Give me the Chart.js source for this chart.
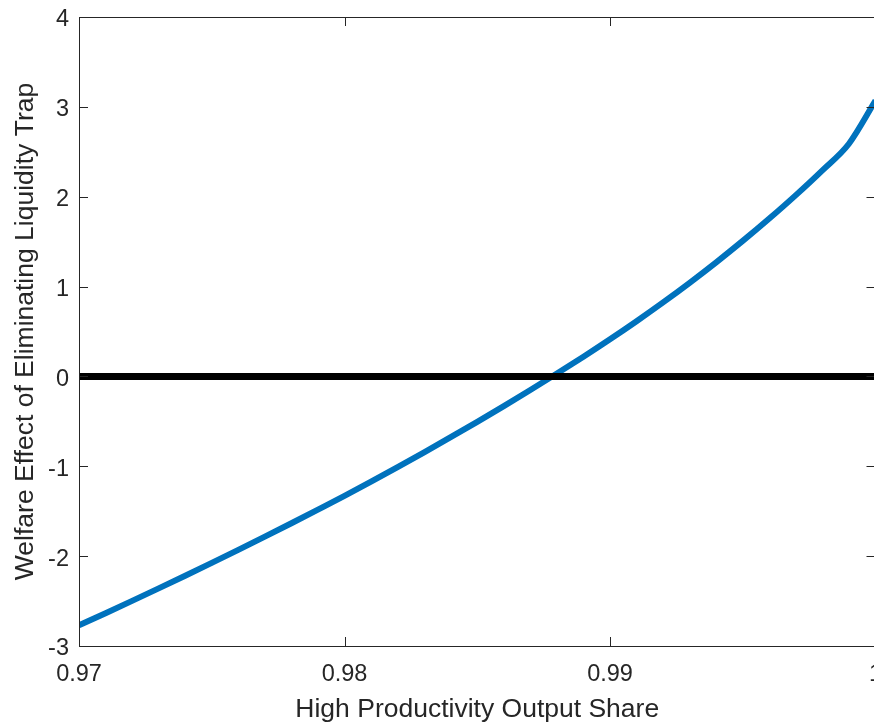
<!DOCTYPE html>
<html>
<head>
<meta charset="utf-8">
<script src="https://cdn.jsdelivr.net/npm/chart.js@4.4.1/dist/chart.umd.min.js"></script>
<style>
  html, body { margin: 0; padding: 0; background: #fff; overflow: hidden; width: 874px; height: 724px; }
  #wrap { width: 890px; height: 724px; position: relative; }
  canvas { display: block; }
</style>
</head>
<body>
<div id="wrap"><canvas id="c" width="890" height="724"></canvas></div>
<script>
// ---- data ----
const shareX = [0.970, 0.971, 0.972, 0.973, 0.974, 0.975, 0.976, 0.977, 0.978, 0.979,
                0.980, 0.981, 0.982, 0.983, 0.984, 0.985, 0.986, 0.987, 0.988, 0.989,
                0.990, 0.991, 0.992, 0.993, 0.994, 0.995, 0.996, 0.997, 0.998, 0.999, 1.000];
const welfare = [-2.770, -2.635, -2.498, -2.359, -2.218, -2.075, -1.930, -1.783, -1.634, -1.483,
                 -1.330, -1.171, -1.009, -0.844, -0.676, -0.505, -0.330, -0.151, 0.032, 0.220,
                  0.414, 0.615, 0.824, 1.042, 1.270, 1.508, 1.757, 2.018, 2.294, 2.590, 3.070];
const zeroLineX = [0.97, 1.0];
const zeroLineY = [0, 0];
const xTicks = [0.97, 0.98, 0.99, 1];
const xTickLabels = ['0.97', '0.98', '0.99', '1'];
const yTicks = [-3, -2, -1, 0, 1, 2, 3, 4];
const xTitle = 'High Productivity Output Share';
const yTitle = 'Welfare Effect of Eliminating Liquidity Trap';

const axisColor = '#262626';
const FONT = '"Liberation Sans", Arial, Helvetica, sans-serif';

const frame = {
  id: 'frame',
  afterDraw(chart) {
    const ctx = chart.ctx, a = chart.chartArea;
    const xs = chart.scales.x, ys = chart.scales.y;
    ctx.save();
    ctx.strokeStyle = axisColor;
    ctx.lineWidth = 1;
    ctx.strokeRect(Math.round(a.left) + 0.5, Math.round(a.top) + 0.5,
                   Math.round(a.right - a.left), Math.round(a.bottom - a.top));
    const L = 9;
    ctx.beginPath();
    xTicks.forEach(v => {
      const px = Math.round(xs.getPixelForValue(v)) + 0.5;
      ctx.moveTo(px, a.bottom); ctx.lineTo(px, a.bottom - L);
      ctx.moveTo(px, a.top); ctx.lineTo(px, a.top + L);
    });
    yTicks.forEach(v => {
      const py = Math.round(ys.getPixelForValue(v)) + 0.5;
      ctx.moveTo(a.left, py); ctx.lineTo(a.left + L, py);
      ctx.moveTo(a.right, py); ctx.lineTo(a.right - L, py);
    });
    ctx.stroke();
    ctx.restore();
  }
};

new Chart(document.getElementById('c'), {
  type: 'line',
  data: {
    datasets: [
      {
        label: 'zero',
        data: zeroLineX.map((x, i) => ({ x, y: zeroLineY[i] })),
        borderColor: '#000000',
        borderWidth: 7,
        pointRadius: 0,
        borderCapStyle: 'butt',
        order: 0
      },
      {
        label: 'welfare',
        data: shareX.map((x, i) => ({ x, y: welfare[i] })),
        borderColor: '#0072BD',
        borderWidth: 6,
        pointRadius: 0,
        cubicInterpolationMode: 'monotone',
        order: 1
      }
    ]
  },
  plugins: [frame],
  options: {
    responsive: false,
    animation: false,
    events: [],
    layout: { padding: { left: 0, top: 17, right: 14.5, bottom: 0 } },
    plugins: { legend: { display: false }, tooltip: { enabled: false } },
    scales: {
      x: {
        type: 'linear',
        min: 0.97, max: 1,
        afterBuildTicks: s => { s.ticks = xTicks.map(v => ({ value: v })); },
        afterFit: s => { s.height = 78; s.paddingLeft = 0; s.paddingRight = 0; },
        grid: { display: false, drawTicks: false },
        border: { display: false },
        ticks: {
          padding: 14,
          color: axisColor,
          font: { family: FONT, size: 23.5 },
          maxRotation: 0,
          callback: (v) => { const i = xTicks.indexOf(v); return i >= 0 ? xTickLabels[i] : ''; }
        },
        title: {
          display: true, text: xTitle, color: axisColor,
          font: { family: FONT, size: 26.5 },
          padding: { top: 0, bottom: -2 }
        }
      },
      y: {
        type: 'linear',
        min: -3, max: 4,
        afterBuildTicks: s => { s.ticks = yTicks.map(v => ({ value: v })); },
        afterFit: s => { s.width = 79; s.paddingTop = 0; s.paddingBottom = 0; },
        grid: { display: false, drawTicks: false },
        border: { display: false },
        ticks: {
          padding: 10,
          labelOffset: 3,
          color: axisColor,
          font: { family: FONT, size: 23.5 },
          callback: v => String(v)
        },
        title: {
          display: true, text: yTitle, color: axisColor,
          font: { family: FONT, size: 26.5 },
          padding: { top: 10, bottom: 0 }
        }
      }
    }
  }
});
</script>
</body>
</html>
